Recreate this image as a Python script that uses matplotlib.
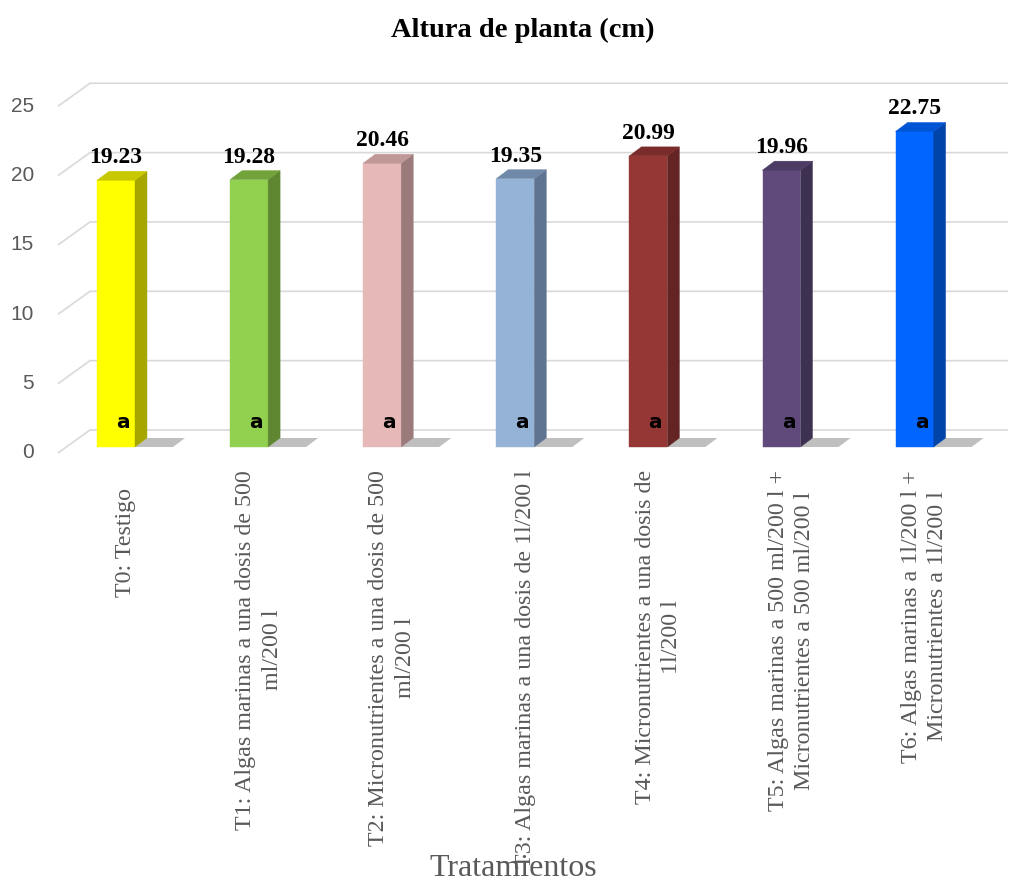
import numpy as np
import matplotlib
matplotlib.use("Agg")
import matplotlib.pyplot as plt
from matplotlib.patches import Polygon

# data
categories = [
    "T0: Testigo   ",
    "T1: Algas marinas a una dosis de 500\nml/200 l",
    "T2: Micronutrientes a una dosis de 500\nml/200 l",
    "T3: Algas marinas a una dosis de 1l/200 l",
    "T4: Micronutrientes a una dosis de\n1l/200 l",
    "T5: Algas marinas a 500 ml/200 l +\nMicronutrientes a 500 ml/200 l",
    "T6: Algas marinas a 1l/200 l +\nMicronutrientes a 1l/200 l",
]
values = [19.23, 19.28, 20.46, 19.35, 20.99, 19.96, 22.75]
letters = ["a", "a", "a", "a", "a", "a", "a"]
yticks = [0, 5, 10, 15, 20, 25]

front_colors = ["#FFFF00", "#92D050", "#E6B9B8", "#95B3D7", "#953735", "#604A7B", "#0066FF"]
side_colors = ["#A6A600", "#5F8732", "#9A7A7A", "#5F7490", "#632423", "#3E3050", "#0044AA"]
top_colors = ["#C8C800", "#71A33A", "#C09898", "#7189A8", "#7A2C2A", "#4C3B63", "#0055D5"]

W, H = 1011, 881
fig = plt.figure(figsize=(W / 100, H / 100), dpi=100)
ax = fig.add_axes([0, 0, 1, 1])

# pixel scales: one category = 133.1 px, one unit = 13.87 px
sx = 133.1
sy = 13.87
x0 = -116 / sx
y0 = -(H - 447) / sy
ax.set_xlim(x0, x0 + W / sx)
ax.set_ylim(y0, y0 + H / sy)
ax.axis("off")

def px(dx):
    return dx / sx

def py(dy):
    return dy / sy

# gridlines: front edge -> back wall -> right
front_dx, front_dy = px(-58), py(-6)
back_dx, back_dy = px(-26), py(17)
right_x = x0 + 1008 / sx
for t in yticks:
    ax.plot([front_dx, back_dx, right_x], [t + front_dy, t + back_dy, t + back_dy],
            color="#D9D9D9", lw=1.2, zorder=1, solid_capstyle="butt")
    ax.text(px(-82), t + front_dy, str(t), ha="right", va="center",
            fontsize=15, color="#595959", family="Liberation Sans")

bw = px(38)
ddx, ddy = px(12), py(9)
for i, v in enumerate(values):
    l = i - bw / 2
    r = i + bw / 2
    # shadow on floor
    ax.add_patch(Polygon([(r, 0), (r + bw, 0), (r + bw + ddx, ddy), (r + ddx, ddy)],
                         closed=True, fc="#BFBFBF", ec="none", zorder=2))
    # front
    ax.add_patch(Polygon([(l, 0), (r, 0), (r, v), (l, v)], closed=True,
                         fc=front_colors[i], ec=front_colors[i], lw=0.3, zorder=3))
    # side
    ax.add_patch(Polygon([(r, 0), (r + ddx, ddy), (r + ddx, v + ddy), (r, v)], closed=True,
                         fc=side_colors[i], ec=side_colors[i], lw=0.3, zorder=3))
    # top
    ax.add_patch(Polygon([(l, v), (r, v), (r + ddx, v + ddy), (l + ddx, v + ddy)], closed=True,
                         fc=top_colors[i], ec=top_colors[i], lw=0.3, zorder=3))
    ax.text(i, v + ddy + py(8), f"{v:.2f}", ha="center", va="baseline",
            fontsize=17, fontweight="bold", family="Liberation Serif", color="black", zorder=5)
    ax.text(i + px(7), py(24), letters[i], ha="center", va="center",
            fontsize=14.5, fontweight="bold", family="DejaVu Sans", color="black", zorder=5)
    ax.text(i + px(10), py(-23), categories[i], rotation=90, ha="center", va="top",
            multialignment="center", fontsize=17.3, family="Liberation Serif",
            color="#595959", linespacing=1.36, zorder=4)

fig.text(513 / W, 1 - 868 / H, "Tratamientos", ha="center", va="center",
         fontsize=23, family="Liberation Serif", color="#595959", zorder=2)
fig.text(523 / W, 1 - 30 / H, "Altura de planta (cm)", ha="center", va="center",
         fontsize=20.5, fontweight="bold", family="Liberation Serif", color="black")

fig.savefig("out.png", dpi=100)
